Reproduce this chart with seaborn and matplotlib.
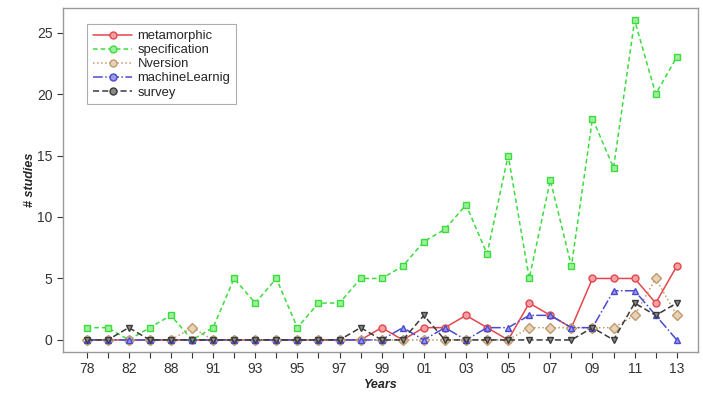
import matplotlib
matplotlib.use("Agg")
import matplotlib.pyplot as plt
import seaborn as sns
import numpy as np

# one entry per study year (two-digit labels, every other one shown)
years = ["78", "80", "82", "85", "88", "90", "91", "92", "93", "94", "95", "96", "97", "98",
         "99", "00", "01", "02", "03", "04", "05", "06", "07", "08", "09", "10", "11", "12", "13"]

metamorphic = [0, 0, 0, 0, 0, 0, 0, 0, 0, 0, 0, 0, 0, 0,
               1, 0, 1, 1, 2, 1, 0, 3, 2, 1, 5, 5, 5, 3, 6]
specification = [1, 1, 0, 1, 2, 0, 1, 5, 3, 5, 1, 3, 3, 5,
                 5, 6, 8, 9, 11, 7, 15, 5, 13, 6, 18, 14, 26, 20, 23]
nversion = [0, 0, 0, 0, 0, 1, 0, 0, 0, 0, 0, 0, 0, 0,
            0, 0, 0, 0, 0, 0, 0, 1, 1, 1, 1, 1, 2, 5, 2]
machine_learning = [0, 0, 0, 0, 0, 0, 0, 0, 0, 0, 0, 0, 0, 0,
                    0, 1, 0, 1, 0, 1, 1, 2, 2, 1, 1, 4, 4, 2, 0]
survey = [0, 0, 1, 0, 0, 0, 0, 0, 0, 0, 0, 0, 0, 1,
          0, 0, 2, 0, 0, 0, 0, 0, 0, 0, 1, 0, 3, 2, 3]

series_names = ["metamorphic", "specification", "Nversion", "machineLearnig", "survey"]
series_values = [metamorphic, specification, nversion, machine_learning, survey]

sns.set_style("ticks")
plt.rcParams["font.family"] = ["Liberation Sans", "DejaVu Sans"]

styles = [
    dict(color="#e2474e", linestyle="-", marker="o", mfc="#f3a0a4"),
    dict(color="#3ddc3d", linestyle=(0, (3, 2)), marker="s", mfc="#9cf09c"),
    dict(color="#c09a6a", linestyle=":", marker="D", mfc="#e6d3b8"),
    dict(color="#4a4ad0", linestyle="-.", marker="^", mfc="#9a9ae8"),
    dict(color="#3a3a3a", linestyle=(0, (4, 2)), marker="v", mfc="#8a8a8a"),
]

fig = plt.figure(figsize=(7.03, 3.98), dpi=100)
ax = fig.add_axes([0.0896, 0.1156, 0.9034, 0.8644])

x = np.arange(len(years))
for name, vals, st in zip(series_names, series_values, styles):
    sns.lineplot(x=x, y=vals, ax=ax, label=name, color=st["color"],
                 linestyle=st["linestyle"], linewidth=1.1, marker=st["marker"],
                 markersize=5, markerfacecolor=st["mfc"],
                 markeredgecolor=st["color"], markeredgewidth=1.0)

ax.set_xlim(-1.12, 29.01)
ax.set_ylim(-0.98, 27.0)
ax.set_xticks(x)
ax.set_xticklabels([y if i % 2 == 0 else "" for i, y in enumerate(years)], fontsize=10)
ax.set_yticks([0, 5, 10, 15, 20, 25])
ax.tick_params(axis="y", labelsize=10, colors="#333333", length=4)
ax.tick_params(axis="x", colors="#333333", length=4)
for sp in ax.spines.values():
    sp.set_visible(True)
    sp.set_color("#999999")
    sp.set_linewidth(1.0)

ax.set_xlabel("Years", fontsize=9, fontweight="bold", fontstyle="italic", labelpad=2)
ax.set_ylabel("# studies", fontsize=9, fontweight="bold", fontstyle="italic", labelpad=1)

leg = ax.legend(loc="upper left", bbox_to_anchor=(0.028, 0.972), fontsize=9.4,
                frameon=True, fancybox=False, edgecolor="#999999",
                handlelength=3.0, handletextpad=0.4, labelspacing=0.15,
                borderpad=0.45)
leg.get_frame().set_linewidth(0.8)
# the legend keys in the reference all use small circles
for h in leg.legend_handles:
    h.set_marker("o")

fig.savefig("out.png", dpi=100)
